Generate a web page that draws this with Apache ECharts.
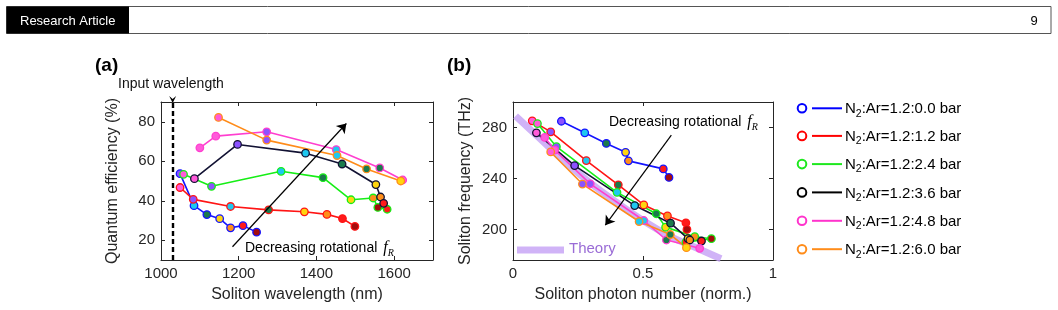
<!DOCTYPE html>
<html><head><meta charset="utf-8">
<script src="https://cdn.jsdelivr.net/npm/echarts@6/dist/echarts.min.js"></script>
<style>html,body{margin:0;padding:0;background:#fff}#c{width:1058px;height:310px}</style>
</head><body><div id="c"></div>
<script>
// ---------- data: panel (a) soliton wavelength (nm) vs quantum efficiency (%) ----------
const wlBlue   = [1049, 1085, 1118, 1151, 1179, 1211, 1246];
const qeBlue   = [53.7, 37.5, 33.0, 30.9, 26.3, 27.4, 24.1];
const wlRed    = [1049, 1083, 1179, 1277, 1369, 1427, 1467, 1499];
const qeRed    = [46.7, 40.7, 37.1, 35.4, 34.4, 33.1, 31.0, 27.0];
const wlGreen  = [1058, 1130, 1309, 1417, 1489, 1546, 1558, 1582];
const qeGreen  = [53.4, 47.3, 54.9, 51.7, 40.5, 41.4, 36.6, 35.7];
const wlBlack  = [1086, 1197, 1372, 1466, 1553, 1565, 1573];
const qeBlack  = [51.2, 68.5, 64.1, 58.6, 48.2, 41.9, 38.7];
const wlPink   = [1100, 1141, 1272, 1451, 1563, 1622];
const qePink   = [66.8, 72.7, 74.9, 65.9, 56.6, 50.5];
const wlOrange = [1148, 1272, 1453, 1529, 1617];
const qeOrange = [82.2, 70.7, 62.9, 56.1, 50.0];

// ---------- data: panel (b) photon number (norm.) vs soliton frequency (THz) ----------
const pnBlue   = [0.186, 0.276, 0.359, 0.433, 0.444, 0.578, 0.600];
const fqBlue   = [284.9, 275.8, 267.5, 260.5, 253.8, 247.5, 240.8];
const pnRed    = [0.074, 0.145, 0.282, 0.405, 0.503, 0.594, 0.665, 0.669];
const fqRed    = [285.2, 276.6, 254.0, 235.0, 219.2, 210.6, 205.2, 200.0];
const pnGreen  = [0.094, 0.167, 0.400, 0.551, 0.587, 0.699, 0.763, 0.665];
const fqGreen  = [283.1, 264.9, 229.1, 212.3, 201.8, 194.3, 192.7, 190.0];
const pnBlack  = [0.090, 0.237, 0.468, 0.606, 0.673, 0.680, 0.725];
const fqBlack  = [275.8, 250.1, 218.7, 204.9, 192.8, 191.7, 190.9];
const pnPink   = [0.122, 0.160, 0.297, 0.503, 0.590, 0.718];
const fqPink   = [272.2, 262.3, 235.8, 207.0, 191.7, 185.2];
const pnOrange = [0.145, 0.267, 0.485, 0.605, 0.667];
const fqOrange = [260.8, 235.6, 206.2, 196.0, 185.7];
const theoryN  = [0.01, 0.1, 0.2, 0.3, 0.4, 0.5, 0.6, 0.7, 0.8];
const theoryF  = [289, 272, 253, 236, 221, 207, 195, 186, 177];

// marker fill category per point (index into fill palette)
const fillBlue   = [1, 2, 3, 4, 5, 6, 7];
const fillRed    = [0, 1, 2, 3, 4, 5, 6, 7];
const fillGreen  = [0, 1, 2, 3, 4, 5, 7, 6];
const fillBlack  = [0, 1, 2, 3, 4, 5, 6];
const fillPink   = [0, 0, 1, 2, 3, 0];
const fillOrange = [0, 1, 2, 3, 4];

// labels / ticks
const legendLabels = ['0.0', '1.2', '2.4', '3.6', '4.8', '6.0'];
const ticksA_X = [1000, 1200, 1400, 1600];
const ticksA_Y = [20, 40, 60, 80];
const ticksB_X = [0, 0.5, 1];
const ticksB_Y = [200, 240, 280];
const inputWl = 1030;
const arrowA = [[1184, 16.7], [1477, 79.1]];
const arrowB = [[0.609, 274], [0.355, 203.3]];

// ---------- styles ----------
const FONT = '"Liberation Sans", Arial, Helvetica, sans-serif';
const AX = '#262626';
const palette = ['#ff5ad9', '#8c52ff', '#1ec8f0', '#1b7a4c', '#ffd50f', '#ff8f1a', '#ff1a1a', '#a30d0d'];
const sColors = ['#1414ff', '#ff1414', '#16ee16', '#121233', '#ff3fcf', '#ff8c1a'];
const legColors = ['#0000ff', '#ff0000', '#1ee81e', '#000000', '#ff33cc', '#ff8c1a'];

const setsA = [[wlBlue, qeBlue, fillBlue], [wlRed, qeRed, fillRed], [wlGreen, qeGreen, fillGreen],
  [wlBlack, qeBlack, fillBlack], [wlPink, qePink, fillPink], [wlOrange, qeOrange, fillOrange]];
const setsB = [[pnBlue, fqBlue, fillBlue], [pnRed, fqRed, fillRed], [pnGreen, fqGreen, fillGreen],
  [pnBlack, fqBlack, fillBlack], [pnPink, fqPink, fillPink], [pnOrange, fqOrange, fillOrange]];

function mkSeries(xs, ys, fills, color, ai) {
  return {
    type: 'line', xAxisIndex: ai * 2, yAxisIndex: ai * 2,
    data: xs.map((v, i) => ({ value: [v, ys[i]], itemStyle: { color: palette[fills[i]], borderColor: color, borderWidth: 1.3 } })),
    symbol: 'circle', symbolSize: 7.5, showAllSymbol: true,
    lineStyle: { color: color, width: 1.6 }, itemStyle: { color: color },
    animation: false, silent: true, z: 3
  };
}

const fmt = v => String(v);
function xAxes(gi, min, max, ticks, name) {
  const common = { gridIndex: gi, type: 'value', min, max, splitLine: { show: false },
    axisLine: { show: true, onZero: false, lineStyle: { color: AX, width: 1 } },
    axisTick: { show: true, inside: true, length: 4, customValues: ticks, lineStyle: { color: AX } } };
  return [
    Object.assign({}, common, { position: 'bottom',
      axisLabel: { fontSize: 15, color: AX, fontFamily: FONT, margin: 6, customValues: ticks, formatter: fmt },
      name, nameLocation: 'middle', nameGap: 27, nameTextStyle: { fontSize: 16, color: AX, fontFamily: FONT } }),
    Object.assign({}, common, { position: 'top', axisLabel: { show: false, customValues: ticks } })
  ];
}
function yAxes(gi, min, max, ticks, name, gap) {
  const common = { gridIndex: gi, type: 'value', min, max, splitLine: { show: false },
    axisLine: { show: true, onZero: false, lineStyle: { color: AX, width: 1 } },
    axisTick: { show: true, inside: true, length: 4, customValues: ticks, lineStyle: { color: AX } } };
  return [
    Object.assign({}, common, { position: 'left',
      axisLabel: { fontSize: 15, color: AX, fontFamily: FONT, margin: 6, customValues: ticks, formatter: fmt },
      name, nameLocation: 'middle', nameGap: gap, nameTextStyle: { fontSize: 16, color: AX, fontFamily: FONT } }),
    Object.assign({}, common, { position: 'right', axisLabel: { show: false, customValues: ticks } })
  ];
}

const series = [];
series.push({
  type: 'line', xAxisIndex: 2, yAxisIndex: 2, smooth: 0.4, symbol: 'none', silent: true, animation: false, z: 1,
  data: theoryN.map((v, i) => [v, theoryF[i]]),
  lineStyle: { color: 'rgba(196,160,245,0.8)', width: 7, cap: 'butt' },
  markLine: { silent: true, animation: false, symbol: ['none', 'arrow'], symbolSize: 9, label: { show: false },
    lineStyle: { color: '#000', width: 1.2, type: 'solid' },
    data: [[{ coord: arrowB[0] }, { coord: arrowB[1] }]] }
});
setsA.forEach((s, k) => series.push(mkSeries(s[0], s[1], s[2], sColors[k], 0)));
setsB.forEach((s, k) => series.push(mkSeries(s[0], s[1], s[2], sColors[k], 1)));
series[1].markLine = { silent: true, animation: false, label: { show: false }, symbolSize: 9,
  data: [
    [{ coord: arrowA[0], symbol: 'none' }, { coord: arrowA[1], symbol: 'arrow', lineStyle: { color: '#000', width: 1.2, type: 'solid' } }],
    [{ coord: [inputWl, 10], symbol: 'none' }, { coord: [inputWl, 90], symbol: 'none', lineStyle: { color: '#000', width: 2.4, type: [5, 3] } }]
  ] };

const tf = (t, x, y, o) => ({ type: 'text', silent: true, style: Object.assign({ text: t, x, y, fill: AX, font: '14px ' + FONT, verticalAlign: 'middle' }, o || {}) });

const graphic = [
  { type: 'rect', silent: true, shape: { x: 6.5, y: 6.5, width: 1044.5, height: 27 }, style: { fill: '#fff', stroke: '#555', lineWidth: 1 } },
  { type: 'rect', silent: true, shape: { x: 6.5, y: 6.5, width: 122.5, height: 27 }, style: { fill: '#000' } },
  tf('Research Article', 20, 21, { fill: '#fff', font: '13px ' + FONT }),
  tf('9', 1034, 21, { fill: '#000', font: '13px ' + FONT, align: 'center' }),
  tf('(a)', 95, 66, { fill: '#000', font: 'bold 19px ' + FONT }),
  tf('(b)', 447, 66, { fill: '#000', font: 'bold 19px ' + FONT }),
  tf('Input wavelength', 118, 84, { fill: '#111' }),
  { type: 'line', silent: true, shape: { x1: 517, y1: 250, x2: 564, y2: 250 }, style: { stroke: 'rgba(196,160,245,0.8)', lineWidth: 7 } },
  tf('Theory', 569, 249, { fill: '#9a6cd6', font: '15px ' + FONT })
];
const richFR = {
  a: { fontSize: 14, fontFamily: FONT, lineHeight: 20, color: '#111' },
  f: { fontSize: 16, fontFamily: '"Liberation Serif", serif', fontStyle: 'italic', lineHeight: 20, color: '#111', padding: [0, 0, 0, 2] },
  r: { fontSize: 10, fontFamily: '"Liberation Serif", serif', fontStyle: 'italic', lineHeight: 12, verticalAlign: 'bottom', color: '#111' }
};
graphic.push({ type: 'text', silent: true, style: { text: '{a|Decreasing rotational }{f|f}{r|R}', rich: richFR, x: 245, y: 248, verticalAlign: 'middle' } });
graphic.push({ type: 'text', silent: true, style: { text: '{a|Decreasing rotational }{f|f}{r|R}', rich: richFR, x: 609, y: 122, verticalAlign: 'middle' } });

const rowY = [108.3, 135.9, 164.1, 192.4, 220.8, 249.2];
const richLeg = {
  n: { fontSize: 15, fontFamily: FONT, lineHeight: 20, color: '#1a1a1a' },
  s: { fontSize: 10.5, fontFamily: FONT, lineHeight: 12, verticalAlign: 'bottom', color: '#1a1a1a' }
};
legendLabels.forEach((lab, k) => {
  const y = rowY[k];
  graphic.push({ type: 'circle', silent: true, shape: { cx: 802, cy: y, r: 4.3 }, style: { fill: '#fff', stroke: legColors[k], lineWidth: 2 } });
  graphic.push({ type: 'line', silent: true, shape: { x1: 812, y1: y, x2: 842, y2: y }, style: { stroke: legColors[k], lineWidth: 2 } });
  graphic.push({ type: 'text', silent: true, style: { text: '{n|N}{s|2}{n|:Ar=1.2:' + lab + ' bar}', rich: richLeg, x: 845, y: y + 1, verticalAlign: 'middle' } });
});

const chart = echarts.init(document.getElementById('c'), null, { renderer: 'canvas' });
chart.setOption({
  animation: false,
  backgroundColor: '#fff',
  grid: [
    { left: 161, top: 102, width: 272, height: 158 },
    { left: 513, top: 102, width: 260, height: 158 }
  ],
  xAxis: [...xAxes(0, 1000, 1700, ticksA_X, 'Soliton wavelength (nm)'), ...xAxes(1, 0, 1, ticksB_X, 'Soliton photon number (norm.)')],
  yAxis: [...yAxes(0, 10, 90, ticksA_Y, 'Quantum efficiency (%)', 40), ...yAxes(1, 176, 300, ticksB_Y, 'Soliton frequency (THz)', 39)],
  series,
  graphic
});
// chevron at the top of the input-wavelength line
const p = chart.convertToPixel({ xAxisIndex: 0, yAxisIndex: 0 }, [inputWl, 90]);
graphic.push({ type: 'polygon', silent: true, shape: { points: [[p[0] - 3.5, p[1] - 6], [p[0], p[1] + 1], [p[0] + 3.5, p[1] - 6], [p[0], p[1] - 3]] }, style: { fill: '#000' } });
chart.setOption({ graphic });
</script></body></html>
